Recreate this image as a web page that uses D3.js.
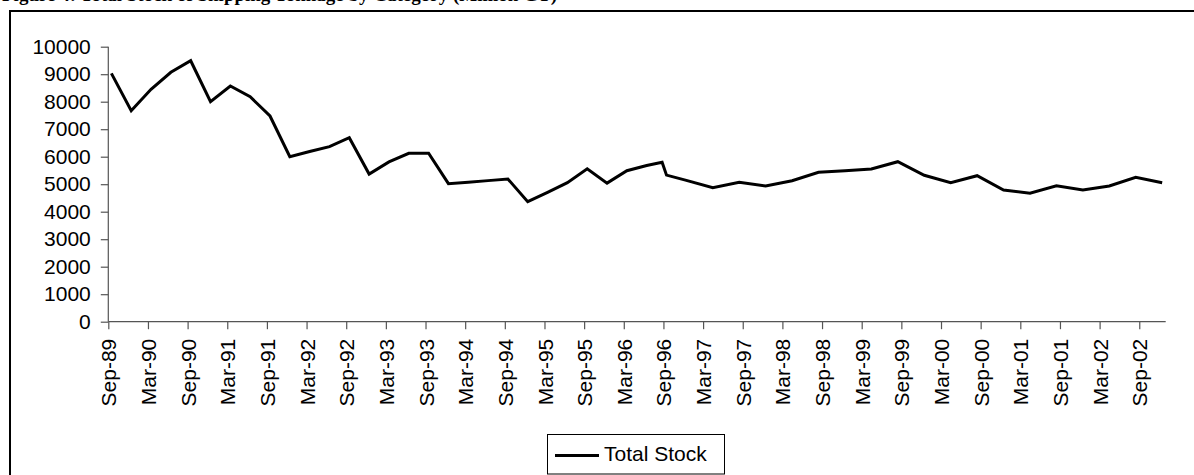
<!DOCTYPE html>
<html>
<head>
<meta charset="utf-8">
<script src="https://cdn.jsdelivr.net/npm/d3@7/dist/d3.min.js"></script>
<style>
  html, body { margin: 0; padding: 0; background: #fff; overflow: hidden; }
  svg { display: block; }
</style>
</head>
<body>
<svg id="chart" width="1194" height="475"></svg>
<script>
// ---- data ----
const dates = [
  "1989-09-15","1989-12-15","1990-03-15","1990-06-15","1990-09-15","1990-12-15",
  "1991-03-15","1991-06-15","1991-09-15","1991-12-15","1992-03-15","1992-06-15",
  "1992-09-15","1992-12-15","1993-03-15","1993-06-15","1993-09-15","1993-12-15",
  "1994-03-15","1994-06-15","1994-09-15","1994-12-15","1995-03-15","1995-06-15",
  "1995-09-15","1995-12-15","1996-03-15","1996-06-15","1996-08-25","1996-09-15",
  "1996-12-15","1997-04-15","1997-08-15","1997-12-15","1998-04-15","1998-08-15",
  "1998-12-15","1999-04-15","1999-08-15","1999-12-15","2000-04-15","2000-08-15",
  "2000-12-15","2001-04-15","2001-08-15","2001-12-15","2002-04-15","2002-08-15",
  "2002-12-15"
];
const totalStock = [
  9030, 7670, 8450, 9070, 9490, 8000,
  8570, 8180, 7480, 6000, 6190, 6364,
  6690, 5370, 5810, 6124, 6124, 5020,
  5070, 5130, 5190, 4364, 4705, 5055,
  5560, 5040, 5491, 5680, 5800, 5330,
  5140, 4873, 5070, 4935, 5127, 5433,
  5490, 5553, 5818, 5324, 5055, 5309,
  4789, 4669, 4945, 4789, 4935, 5251,
  5055
];
const tickLabels = [
  "Sep-89","Mar-90","Sep-90","Mar-91","Sep-91","Mar-92","Sep-92","Mar-93","Sep-93",
  "Mar-94","Sep-94","Mar-95","Sep-95","Mar-96","Sep-96","Mar-97","Sep-97","Mar-98",
  "Sep-98","Mar-99","Sep-99","Mar-00","Sep-00","Mar-01","Sep-01","Mar-02","Sep-02"
];
const yTicks = [0,1000,2000,3000,4000,5000,6000,7000,8000,9000,10000];
const seriesName = "Total Stock";
const titleText = "Figure 4: Total Stock of Shipping Tonnage by Category (Million GT)";

// ---- helpers: months since Sep-1989 ----
const monthNames = ["Jan","Feb","Mar","Apr","May","Jun","Jul","Aug","Sep","Oct","Nov","Dec"];
function monthIndexFromDate(s) {
  const [y, m, d] = s.split("-").map(Number);
  return (y - 1989) * 12 + (m - 9) + (d - 1) / 30;
}
function monthIndexFromLabel(s) {
  const [mn, yy] = s.split("-");
  const y = 1900 + (+yy < 50 ? +yy + 100 : +yy);
  return (y - 1989) * 12 + (monthNames.indexOf(mn) + 1 - 9);
}
const points = dates.map((d, i) => ({ t: monthIndexFromDate(d), v: totalStock[i] }));
const tickPos = tickLabels.map(monthIndexFromLabel);

// ---- layout ----
const svg = d3.select("#chart");
const plot = { left: 108.3, right: 1165.7, top: 46.7, bottom: 321.7 };

const x = d3.scaleLinear().domain([0, 160]).range([plot.left, plot.right]);
const y = d3.scaleLinear().domain([0, 10000]).range([plot.bottom, plot.top]);

// outer border
svg.append("rect")
  .attr("x", 10).attr("y", 11)
  .attr("width", 1210).attr("height", 490)
  .attr("fill", "#fff").attr("stroke", "#000").attr("stroke-width", 2);

// title (mostly clipped at top like the reference)
svg.append("text")
  .attr("x", 2).attr("y", 1)
  .attr("font-family", "'Liberation Serif', 'Times New Roman', serif")
  .attr("font-weight", "bold")
  .attr("font-size", 19)
  .attr("fill", "#000")
  .text(titleText);

const axisColor = "#555";
const fontFam = "'Liberation Sans', Arial, sans-serif";

// y axis
const yAxis = d3.axisLeft(y).tickValues(yTicks).tickSize(7.5).tickPadding(10).tickFormat(d3.format("d"));
const gy = svg.append("g").attr("transform", `translate(${plot.left},0)`).call(yAxis);
gy.select(".domain").attr("stroke", axisColor).attr("stroke-width", 1.2).attr("d", `M-0,${plot.top}V${plot.bottom}`);
gy.selectAll(".tick line").attr("stroke", axisColor).attr("stroke-width", 1.2);
gy.selectAll(".tick text").attr("font-family", fontFam).attr("font-size", 21).attr("fill", "#000");

// x axis
const xAxis = d3.axisBottom(x).tickValues(tickPos).tickSize(7.5).tickFormat((d, i) => tickLabels[i]);
const gx = svg.append("g").attr("transform", `translate(0,${plot.bottom})`).call(xAxis);
gx.select(".domain").attr("stroke", axisColor).attr("stroke-width", 1.2).attr("d", `M${plot.left},0H${plot.right}`);
gx.selectAll(".tick line").attr("stroke", axisColor).attr("stroke-width", 1.2);
gx.selectAll(".tick text")
  .attr("font-family", fontFam).attr("font-size", 21).attr("fill", "#000")
  .attr("transform", "rotate(-90)")
  .attr("text-anchor", "end")
  .attr("x", -17).attr("y", 0).attr("dy", "0.36em");

// line
const line = d3.line().x(d => x(d.t)).y(d => y(d.v));
svg.append("path")
  .datum(points)
  .attr("fill", "none")
  .attr("stroke", "#000")
  .attr("stroke-width", 3)
  .attr("stroke-linejoin", "miter")
  .attr("d", line);

// legend
const lg = svg.append("g");
lg.append("rect")
  .attr("x", 547.5).attr("y", 434.5).attr("width", 177).attr("height", 39.5)
  .attr("fill", "#fff").attr("stroke", "#000").attr("stroke-width", 1);
lg.append("line")
  .attr("x1", 555).attr("x2", 599).attr("y1", 455.5).attr("y2", 455.5)
  .attr("stroke", "#000").attr("stroke-width", 3);
lg.append("text")
  .attr("x", 604).attr("y", 460.5)
  .attr("font-family", fontFam).attr("font-size", 21).attr("fill", "#000")
  .text(seriesName);
</script>
</body>
</html>
